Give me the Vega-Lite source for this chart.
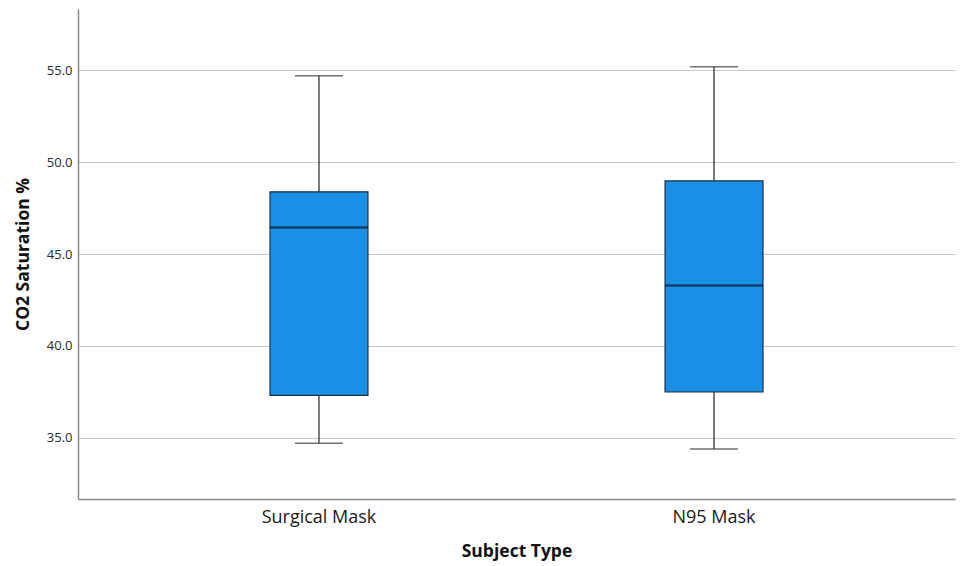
{
  "$schema": "https://vega.github.io/schema/vega-lite/v6.json",
  "width": 877,
  "height": 490,
  "autosize": {"type": "none"},
  "padding": {"left": 78, "top": 9, "right": 5, "bottom": 67},
  "background": "white",
  "config": {
    "view": {"stroke": null},
    "font": "Open Sans"
  },
  "data": {
    "values": [
      {"type": "Surgical Mask", "lower": 34.69, "q1": 37.30, "median": 46.44, "q3": 48.39, "upper": 54.71},
      {"type": "N95 Mask", "lower": 34.38, "q1": 37.48, "median": 43.29, "q3": 48.99, "upper": 55.20}
    ]
  },
  "encoding": {
    "x": {
      "field": "type",
      "type": "nominal",
      "sort": ["Surgical Mask", "N95 Mask"],
      "scale": {"paddingInner": 0.752, "paddingOuter": 0.486},
      "axis": {
        "title": "Subject Type",
        "titleFont": "Open Sans",
        "titleFontSize": 17.5,
        "titleFontWeight": "bold",
        "titleColor": "#111111",
        "titlePadding": 16,
        "labelAngle": 0,
        "labelFont": "Open Sans",
        "labelFontSize": 18,
        "labelColor": "#1a1a1a",
        "labelPadding": 9,
        "ticks": false,
        "domainColor": "#8a8a8a",
        "domainWidth": 1.5,
        "grid": false
      }
    }
  },
  "layer": [
    {
      "mark": {"type": "rule", "color": "#333333", "strokeWidth": 1.3},
      "encoding": {
        "y": {
          "field": "lower",
          "type": "quantitative",
          "scale": {"domain": [31.65, 58.35], "nice": false, "zero": false},
          "axis": {
            "title": "CO2 Saturation %",
            "titleFont": "Open Sans",
            "titleFontSize": 17.5,
            "titleFontWeight": "bold",
            "titleColor": "#111111",
            "titlePadding": 14,
            "values": [35, 40, 45, 50, 55],
            "format": ".1f",
            "labelFont": "Open Sans",
            "labelFontSize": 13,
            "labelColor": "#2a2a2a",
            "labelPadding": 6,
            "ticks": false,
            "domainColor": "#8a8a8a",
            "domainWidth": 1.5,
            "grid": true,
            "gridColor": "#c8c8c8",
            "gridWidth": 1
          }
        },
        "y2": {"field": "upper"}
      }
    },
    {
      "mark": {"type": "bar", "color": "#1a8fe6", "stroke": "#1d3147", "strokeWidth": 1.2},
      "encoding": {
        "y": {"field": "q1", "type": "quantitative"},
        "y2": {"field": "q3"}
      }
    },
    {
      "mark": {"type": "tick", "color": "#333333", "size": 48, "thickness": 1.5},
      "encoding": {
        "y": {"field": "lower", "type": "quantitative"}
      }
    },
    {
      "mark": {"type": "tick", "color": "#333333", "size": 48, "thickness": 1.5},
      "encoding": {
        "y": {"field": "upper", "type": "quantitative"}
      }
    },
    {
      "mark": {"type": "tick", "color": "#0b1f3a", "size": 98, "thickness": 2.5},
      "encoding": {
        "y": {"field": "median", "type": "quantitative"}
      }
    }
  ]
}
